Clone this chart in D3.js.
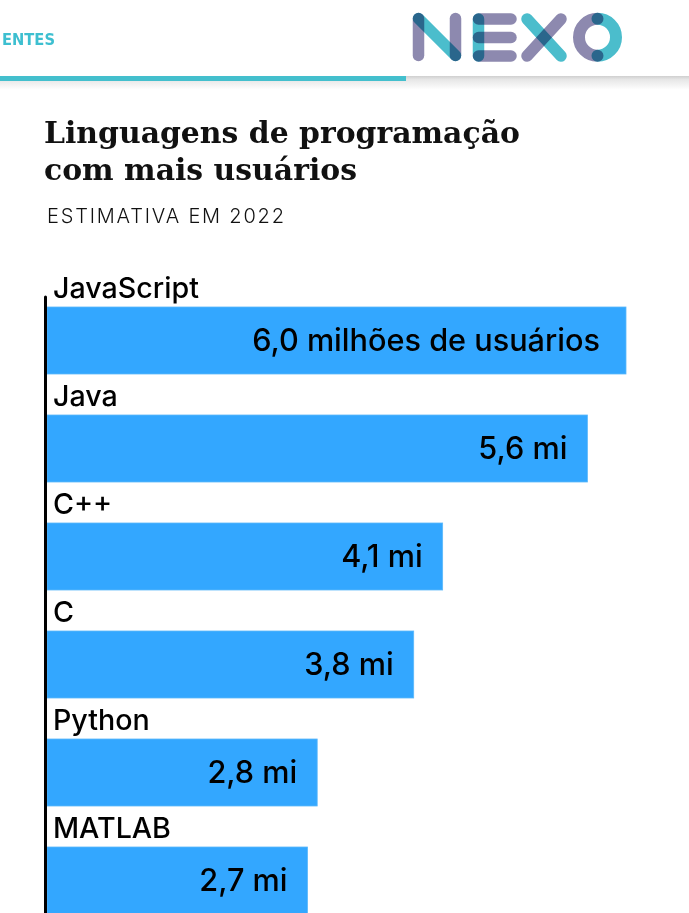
<!DOCTYPE html>
<html><head><meta charset="utf-8">
<script src="https://cdn.jsdelivr.net/npm/d3@7"></script>
<style>
html,body{margin:0;padding:0;background:#fff;overflow:hidden;}
svg{display:block;}
</style></head>
<body>
<script>
// ---- data ----
const categories = ["JavaScript", "Java", "C++", "C", "Python", "MATLAB"];
const values = [6.0, 5.6, 4.1, 3.8, 2.8, 2.7];          // milhões de usuários
const valueSuffixFirst = " milhões de usuários";
const valueSuffixRest = " mi";
const titleLines = ["Linguagens de programação", "com mais usuários"];
const subtitle = "ESTIMATIVA EM 2022";
const headerText = "ENTES";

const W = 689, H = 913;
const svg = d3.select("body").append("svg").attr("width", W).attr("height", H);
const defs = svg.append("defs");

// ---- header ----
const grad = defs.append("linearGradient").attr("id","shade").attr("x1",0).attr("y1",0).attr("x2",0).attr("y2",1);
grad.append("stop").attr("offset","0%").attr("stop-color","#cfcfcf");
grad.append("stop").attr("offset","25%").attr("stop-color","#e6e6e6");
grad.append("stop").attr("offset","100%").attr("stop-color","#ffffff");
svg.append("rect").attr("x",0).attr("y",76).attr("width",W).attr("height",14).attr("fill","url(#shade)");
svg.append("rect").attr("x",0).attr("y",76).attr("width",406).attr("height",5).attr("fill","#43bfcd");
const ht = svg.append("text").attr("x",2).attr("y",44.5).text(headerText)
  .attr("font-family","'DejaVu Sans Condensed','DejaVu Sans',sans-serif").attr("font-weight","bold")
  .attr("font-size",17).attr("fill","#3dbfd0");
ht.attr("font-size", 17*53/ht.node().getComputedTextLength());

// NEXO logo
const P = "#8d89af", T = "#4bbdcc";
const logo = svg.append("g").attr("stroke-linecap","round").attr("fill","none").attr("stroke-width",11.5);
function seg(x1,y1,x2,y2,c){ logo.append("line").attr("x1",x1).attr("y1",y1).attr("x2",x2).attr("y2",y2).attr("stroke",c).style("mix-blend-mode","multiply"); }
// N
seg(418.5,18.5,418.5,55.5,P);
seg(455.5,18.5,455.5,55.5,P);
seg(418.5,18.5,455.5,55.5,T);
// E
seg(478.5,19,511,19,P);
seg(478.5,37.5,511,37.5,P);
seg(478.5,56,511,56,P);
seg(478.5,19,478.5,56,T);
// X
seg(527,19,561,56,T);
seg(561,19,527,56,P);
// O
const oc = {x:597.5, y:37.2, rx:18.5, ry:18.5};
logo.append("path").attr("d",`M${oc.x},${oc.y-oc.ry} A${oc.rx},${oc.ry} 0 0 0 ${oc.x},${oc.y+oc.ry}`)
  .attr("stroke",P).attr("stroke-width",12).style("mix-blend-mode","multiply");
logo.append("path").attr("d",`M${oc.x},${oc.y-oc.ry} A${oc.rx},${oc.ry} 0 0 1 ${oc.x},${oc.y+oc.ry}`)
  .attr("stroke",T).attr("stroke-width",12).style("mix-blend-mode","multiply");

// ---- helpers ----
function fitSize(sel, target){
  const w = sel.node().getComputedTextLength();
  const fs = parseFloat(sel.attr("font-size"));
  return fs * target / w;
}

// ---- title ----
const serif = "'DejaVu Serif','Liberation Serif',serif";
const t1 = svg.append("text").attr("x",44).attr("y",143).text(titleLines[0])
  .attr("font-family",serif).attr("font-weight","bold").attr("font-size",30).attr("fill","#111");
const tfs = fitSize(t1, 476);
t1.attr("font-size", tfs);
svg.append("text").attr("x",44).attr("y",180).text(titleLines[1])
  .attr("font-family",serif).attr("font-weight","bold").attr("font-size",tfs).attr("fill","#111");

const sub = svg.append("text").attr("x",47).attr("y",223).text(subtitle)
  .attr("font-family","Inter,'Noto Sans',sans-serif").attr("font-weight",300)
  .attr("font-size",20).attr("fill","#111");
{
  const w = sub.node().getComputedTextLength();
  sub.attr("letter-spacing", (237 - w) / (subtitle.length - 1));
}

// ---- chart ----
const rowTop = 266, rowStep = 108, barOffset = 41, barH = 67;
const y = d3.scaleBand().domain(categories).range([rowTop, rowTop + rowStep*categories.length]).padding(0);
const x = d3.scaleLinear().domain([0, d3.max(values)]).range([47, 626]);
const loc = d3.formatLocale({decimal:",", thousands:".", grouping:[3], currency:["R$",""]});
const fmt = loc.format(".1f");
const data = categories.map((c,i)=>({c, v:values[i], i}));

const sans = "Inter,'DejaVu Sans',sans-serif";

svg.append("g").selectAll("rect").data(data).join("rect")
  .attr("x", x(0)).attr("y", d=>y(d.c)+barOffset)
  .attr("width", d=>x(d.v)-x(0)).attr("height", barH)
  .attr("fill","#33a7ff").attr("stroke","#5cb8fb").attr("stroke-width",0.8);

const cats = svg.append("g").selectAll("text").data(data).join("text")
  .attr("x", 53).attr("y", d=>y(d.c)+barOffset-9)
  .attr("font-family",sans).attr("font-weight",500).attr("font-size",24).attr("fill","#000")
  .text(d=>d.c);
{
  const w = cats.filter(d=>d.i===0).node().getComputedTextLength();
  cats.attr("font-size", 24*146/w);
}

const vals = svg.append("g").selectAll("text").data(data).join("text")
  .attr("x", d=>x(d.v)-(d.i===0 ? 26 : 20)).attr("y", d=>y(d.c)+barOffset+barH/2+10)
  .attr("text-anchor","end")
  .attr("font-family",sans).attr("font-weight",500).attr("font-size",27).attr("fill","#000")
  .text(d=>fmt(d.v) + (d.i===0 ? valueSuffixFirst : valueSuffixRest));
{
  const w = vals.filter(d=>d.i===0).node().getComputedTextLength();
  vals.attr("font-size", 27*348/w);
}

// axis line
svg.append("line").attr("x1",45.5).attr("x2",45.5).attr("y1",297).attr("y2",H)
  .attr("stroke","#000").attr("stroke-width",3).attr("stroke-linecap","round");
</script>
</body></html>
